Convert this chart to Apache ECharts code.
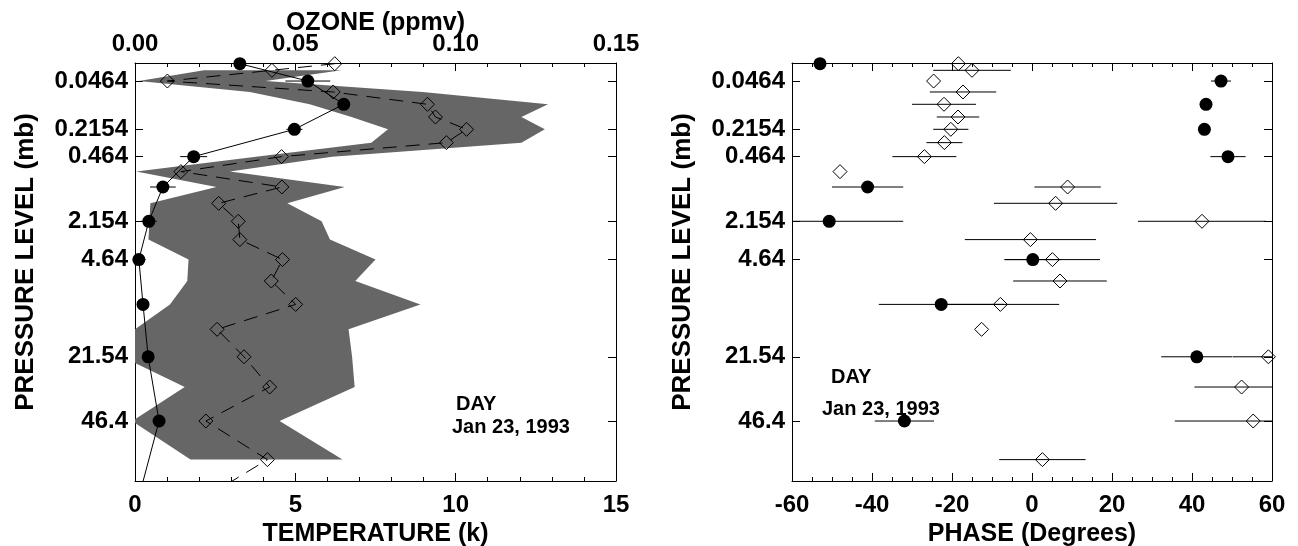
<!DOCTYPE html>
<html>
<head>
<meta charset="utf-8">
<script src="https://cdn.jsdelivr.net/npm/echarts@6/dist/echarts.min.js"></script>
<style>
html,body{margin:0;padding:0;background:#fff;}
#c{width:1298px;height:546px;}
</style>
</head>
<body>
<div id="c"></div>
<script>
// ---- data ----
// pressure levels (mb), top to bottom, and their height on the plot's vertical scale (km-like)
const pressure    = [0.0215, 0.0316, 0.0464, 0.0681, 0.1, 0.147, 0.2154, 0.316, 0.464, 0.681, 1.0, 1.47, 2.154, 3.16, 4.64, 6.81, 10, 14.7, 21.54, 31.6, 46.4, 68.1, 100];
const levelHeight = [71.9, 70.95, 69.41, 67.84, 66.07, 64.25, 62.48, 60.57, 58.56, 56.41, 54.20, 51.86, 49.28, 46.65, 43.78, 40.71, 37.35, 33.77, 29.83, 25.49, 20.61, 15.07, 8.8];
const tickLabels  = ['0.0464', '0.2154', '0.464', '2.154', '4.64', '21.54', '46.4'];

// left panel: temperature amplitude (K) with its spread band, ozone amplitude (ppmv)
const tempAmp  = [6.23, 4.27, 1.01, 6.18, 9.12, 9.37, 10.34, 9.71, 4.57, 1.43, 4.58, 2.61, 3.22, 3.27, 4.60, 4.25, 5.01, 2.56, 3.40, 4.20, 2.21, 4.13, 1.89];
const bandLow  = [null, 2.15, 0.12, 3.58, 5.45, 6.75, 7.89, 7.37, 3.77, 0.04, 2.54, 0.48, 0.45, 0.42, 1.67, 1.63, 1.09, 0.0, -0.4, 1.55, -0.09, 1.73, null];
const bandHigh = [null, 6.44, 4.07, 8.97, 12.88, 12.05, 12.78, 12.05, 6.15, 2.96, 6.54, 4.75, 5.82, 6.08, 7.50, 6.87, 8.90, 6.66, 6.77, 6.85, 4.51, 6.47, null];
const ozoneAmp = [0.0327, null, 0.0539, null, 0.0651, null, 0.0497, null, 0.0183, null, 0.0087, null, 0.0043, null, 0.0012, null, 0.0025, null, 0.0041, null, 0.0075, null, 0.0007];
const ozoneErr = [0, null, 0.0070, null, 0, null, 0.0025, null, 0.0042, null, 0.0040, null, 0.0025, null, 0.0021, null, 0, null, 0, null, 0, null, 0];

// right panel: phase (degrees) with error half-widths
const phaseOzone    = [-53, null, 47.25, null, 43.5, null, 43.1, null, 49.0, null, -41.1, null, -50.7, null, 0.2, null, -22.7, null, 41.2, null, -31.9, null, null];
const phaseOzoneErr = [0, null, 2.5, null, 0, null, 0, null, 4.4, null, 8.9, null, 18.5, null, 7.1, null, 15.6, null, 8.9, null, 7.4, null, null];
const phaseTemp     = [-18.4, -15.0, -24.6, -17.25, -22.0, -18.5, -20.3, -21.9, -26.9, -48.0, 8.9, 5.9, 42.5, -0.4, 5.1, 7.0, -7.9, -12.6, 59.1, 52.4, 55.3, 2.6, null];
const phaseTempErr  = [0, 9.7, 0, 8.3, 8.0, 5.3, 4.4, 4.5, 8.0, 0, 8.3, 15.4, 16.0, 16.4, 11.9, 11.7, 14.7, 0, 8.9, 11.8, 19.6, 10.8, null];

const noteDay  = 'DAY';
const noteDate = 'Jan 23, 1993';

// ---- build ----
const FONT = 'Liberation Sans';
const tickHeights = tickLabels.map(l => levelHeight[pressure.indexOf(parseFloat(l))]);

function pairs(xs) {
  const out = [];
  xs.forEach((v, i) => { if (v !== null) out.push([v, levelHeight[i]]); });
  return out;
}
function errRows(xs, es) {
  const out = [];
  xs.forEach((v, i) => { if (v !== null && es[i]) out.push([v, levelHeight[i], es[i]]); });
  return out;
}

const labelStyle = {fontFamily: FONT, fontWeight: 'bold', fontSize: 24, color: '#000'};
const nameStyle  = {fontFamily: FONT, fontWeight: 'bold', fontSize: 25, color: '#000'};
const lineBlack  = {lineStyle: {color: '#000', width: 1}};

function yAxisDef(grid, labeled) {
  return {
    type: 'value', gridIndex: grid, min: 12, max: 72,
    position: labeled ? 'left' : 'right',
    name: labeled ? 'PRESSURE LEVEL (mb)' : '',
    nameLocation: 'middle', nameGap: 96, nameRotate: 90,
    nameTextStyle: Object.assign({}, nameStyle, {fontSize: 26, padding: [0, 0, 0, 20]}),
    axisLine: Object.assign({show: true, onZero: false}, lineBlack),
    axisTick: {show: true, inside: true, length: 8, customValues: tickHeights, lineStyle: {color: '#000'}},
    axisLabel: {show: labeled, customValues: tickHeights, margin: 7,
      formatter: v => { let k = 0; tickHeights.forEach((h, i) => { if (Math.abs(h - v) < Math.abs(tickHeights[k] - v)) k = i; }); return tickLabels[k]; },
      ...labelStyle},
    splitLine: {show: false}
  };
}
function xAxisDef(grid, pos, min, max, interval, minorSplit, labeled, name, nameGap, fmt) {
  const ax = {
    type: 'value', gridIndex: grid, position: pos, min, max, interval,
    name: name || '', nameLocation: 'middle', nameGap: nameGap || 0, nameTextStyle: nameStyle,
    axisLine: Object.assign({show: true, onZero: false}, lineBlack),
    axisTick: {show: true, inside: true, length: 8, lineStyle: {color: '#000'}},
    minorTick: {show: true, splitNumber: minorSplit, length: 4, lineStyle: {color: '#000'}},
    axisLabel: Object.assign({show: labeled, margin: pos === 'top' ? 7 : 12, formatter: fmt}, labelStyle),
    splitLine: {show: false}, minorSplitLine: {show: false}
  };
  if (pos === 'top') ax.nameMoveOverlap = false;
  return ax;
}

function errorBarSeries(xi, yi, rows) {
  return {
    type: 'custom', xAxisIndex: xi, yAxisIndex: yi, silent: true, clip: true, z: 3,
    data: rows, encode: {x: 0, y: 1},
    renderItem: (params, api) => {
      const c = api.value(0), h = api.value(1), e = api.value(2);
      const p1 = api.coord([c - e, h]), p2 = api.coord([c + e, h]);
      const cs = params.coordSys;
      return {type: 'line', shape: {x1: p1[0], y1: p1[1], x2: p2[0], y2: p2[1]},
        style: {stroke: '#000', lineWidth: 1},
        clipPath: {type: 'rect', shape: {x: cs.x, y: cs.y, width: cs.width, height: cs.height}}};
    }
  };
}

const bandRows = [];
bandLow.forEach((v, i) => { if (v !== null) bandRows.push([v, levelHeight[i], bandHigh[i]]); });

const option = {
  animation: false,
  backgroundColor: '#fff',
  grid: [
    {left: 135, top: 63, width: 481, height: 418, containLabel: false, outerBoundsMode: 'none'},
    {left: 792, top: 63, width: 480, height: 418, containLabel: false, outerBoundsMode: 'none'}
  ],
  xAxis: [
    xAxisDef(0, 'bottom', 0, 15, 5, 5, true, 'TEMPERATURE (k)', 37),
    xAxisDef(0, 'top', 0, 0.15, 0.05, 5, true, 'OZONE (ppmv)', 27, v => v.toFixed(2)),
    xAxisDef(1, 'bottom', -60, 60, 20, 4, true, 'PHASE (Degrees)', 35),
    xAxisDef(1, 'top', -60, 60, 20, 4, false)
  ],
  yAxis: [yAxisDef(0, true), yAxisDef(0, false), yAxisDef(1, true), yAxisDef(1, false)],
  series: [
    {
      type: 'custom', xAxisIndex: 0, yAxisIndex: 0, silent: true, clip: true, z: 1,
      data: bandRows, encode: {x: 0, y: 1},
      renderItem: (params, api) => {
        if (params.dataIndex !== 0) return null;
        const pts = [];
        bandRows.forEach(r => pts.push(api.coord([r[0], r[1]])));
        for (let i = bandRows.length - 1; i >= 0; i--) pts.push(api.coord([bandRows[i][2], bandRows[i][1]]));
        const cs = params.coordSys;
        return {type: 'polygon', shape: {points: pts}, style: {fill: '#666666'},
          clipPath: {type: 'rect', shape: {x: cs.x, y: cs.y, width: cs.width, height: cs.height}}};
      }
    },
    {
      type: 'line', xAxisIndex: 0, yAxisIndex: 0, data: pairs(tempAmp), z: 4,
      symbol: 'diamond', symbolSize: 14, showAllSymbol: true, silent: true,
      lineStyle: {color: '#000', width: 1, type: [14, 9]},
      itemStyle: {color: 'rgba(0,0,0,0)', borderColor: '#000', borderWidth: 1}
    },
    errorBarSeries(1, 0, errRows(ozoneAmp, ozoneErr)),
    {
      type: 'line', xAxisIndex: 1, yAxisIndex: 0, data: pairs(ozoneAmp), z: 5,
      symbol: 'circle', symbolSize: 13, showAllSymbol: true, silent: true,
      lineStyle: {color: '#000', width: 1},
      itemStyle: {color: '#000', borderWidth: 0}
    },
    errorBarSeries(2, 2, errRows(phaseTemp, phaseTempErr)),
    errorBarSeries(2, 2, errRows(phaseOzone, phaseOzoneErr)),
    {
      type: 'scatter', xAxisIndex: 2, yAxisIndex: 2, data: pairs(phaseTemp), z: 4,
      symbol: 'diamond', symbolSize: 14, silent: true,
      itemStyle: {color: 'rgba(0,0,0,0)', borderColor: '#000', borderWidth: 1, opacity: 1}
    },
    {
      type: 'scatter', xAxisIndex: 2, yAxisIndex: 2, data: pairs(phaseOzone), z: 5,
      symbol: 'circle', symbolSize: 13, silent: true,
      itemStyle: {color: '#000', opacity: 1}
    }
  ],
  graphic: [
    {type: 'text', left: 456, top: 394, style: {text: noteDay, font: 'bold 20px "Liberation Sans"', fill: '#000'}},
    {type: 'text', left: 452, top: 417, style: {text: noteDate, font: 'bold 20px "Liberation Sans"', fill: '#000'}},
    {type: 'text', left: 831, top: 367, style: {text: noteDay, font: 'bold 20px "Liberation Sans"', fill: '#000'}},
    {type: 'text', left: 822, top: 399, style: {text: noteDate, font: 'bold 20px "Liberation Sans"', fill: '#000'}}
  ]
};

const chart = echarts.init(document.getElementById('c'), null, {renderer: 'canvas'});
chart.setOption(option);
</script>
</body>
</html>
